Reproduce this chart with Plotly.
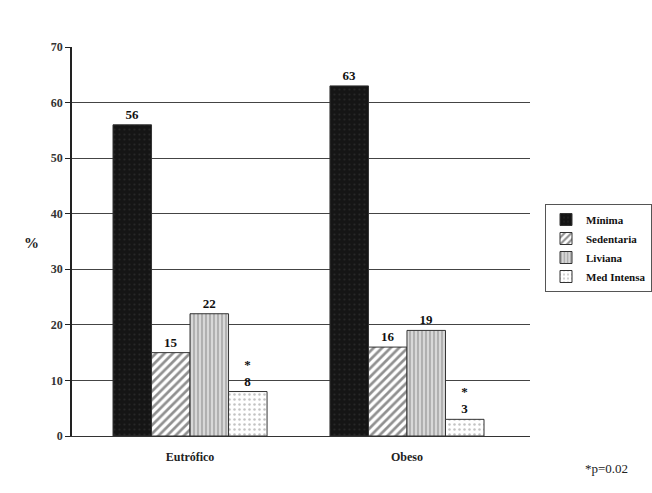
import plotly.graph_objects as go

categories = ["Eutrófico", "Obeso"]
series_names = ["Mínima", "Sedentaria", "Liviana", "Med Intensa"]
minima = [56, 63]
sedentaria = [15, 16]
liviana = [22, 19]
med_intensa = [8, 3]
med_marks = ["*", "*"]
y_ticks = [0, 10, 20, 30, 40, 50, 60, 70]

FONT = "Liberation Serif, Times New Roman, serif"

styles = [
    dict(color="#151515", pattern=dict(shape=".", fgcolor="#3a3a3a", size=5, solidity=0.15)),
    dict(color="#ffffff", pattern=dict(shape="/", fgcolor="#222222", size=6, solidity=0.45)),
    dict(color="#d8d8d8", pattern=dict(shape="|", fgcolor="#666666", size=4, solidity=0.35)),
    dict(color="#ffffff", pattern=dict(shape=".", fgcolor="#888888", size=5, solidity=0.2)),
]
values = [minima, sedentaria, liviana, med_intensa]

fig = go.Figure()
for i, (name, vals, st) in enumerate(zip(series_names, values, styles)):
    if name == "Med Intensa":
        texts = [f"{m}<br>{v}" for m, v in zip(med_marks, vals)]
    else:
        texts = [str(v) for v in vals]
    fig.add_trace(go.Bar(
        x=categories, y=vals, name=name,
        text=texts, textposition="outside", cliponaxis=False,
        textfont=dict(family=FONT, size=13, color="#111111", weight="bold"),
        marker=dict(color=st["color"], pattern=st["pattern"],
                    line=dict(color="#333333", width=1)),
    ))

fig.update_layout(
    width=652, height=493,
    margin=dict(l=72, r=122, t=47, b=57),
    paper_bgcolor="white", plot_bgcolor="white",
    barmode="group", bargap=0.29, bargroupgap=0,
    font=dict(family=FONT, size=11, color="#222222"),
    showlegend=True,
    legend=dict(
        xref="container", yref="container",
        x=545 / 652, y=1 - 204 / 493, xanchor="left", yanchor="top",
        bgcolor="white", bordercolor="#555555", borderwidth=1,
        font=dict(family=FONT, size=11, color="#111111", weight="bold"),
        itemwidth=30, tracegroupgap=0,
    ),
    xaxis=dict(
        range=[-0.544, 1.567],
        showline=True, linecolor="#333333", linewidth=1,
        ticks="", tickfont=dict(family=FONT, size=12, color="#222222", weight="bold"),
        ticklabelstandoff=10,
    ),
    yaxis=dict(
        range=[0, 70], tickvals=y_ticks,
        showline=True, linecolor="#222222", linewidth=1.5,
        ticks="outside", ticklen=5, tickcolor="#222222",
        showgrid=True, gridcolor="#444444", gridwidth=1,
        tickfont=dict(family=FONT, size=12, color="#333333", weight="bold"),
        zeroline=False,
    ),
    annotations=[
        dict(text="%", xref="paper", yref="paper", x=(22 - 72) / 458, y=(436 - 243) / 389,
             showarrow=False, font=dict(family=FONT, size=15, color="#222222", weight="bold")),
        dict(text="*p=0.02", xref="paper", yref="paper", x=(583 - 72) / 458, y=(436 - 478) / 389,
             xanchor="left", showarrow=False, font=dict(family=FONT, size=13, color="#222222")),
    ],
)

fig.write_html("out.html")
